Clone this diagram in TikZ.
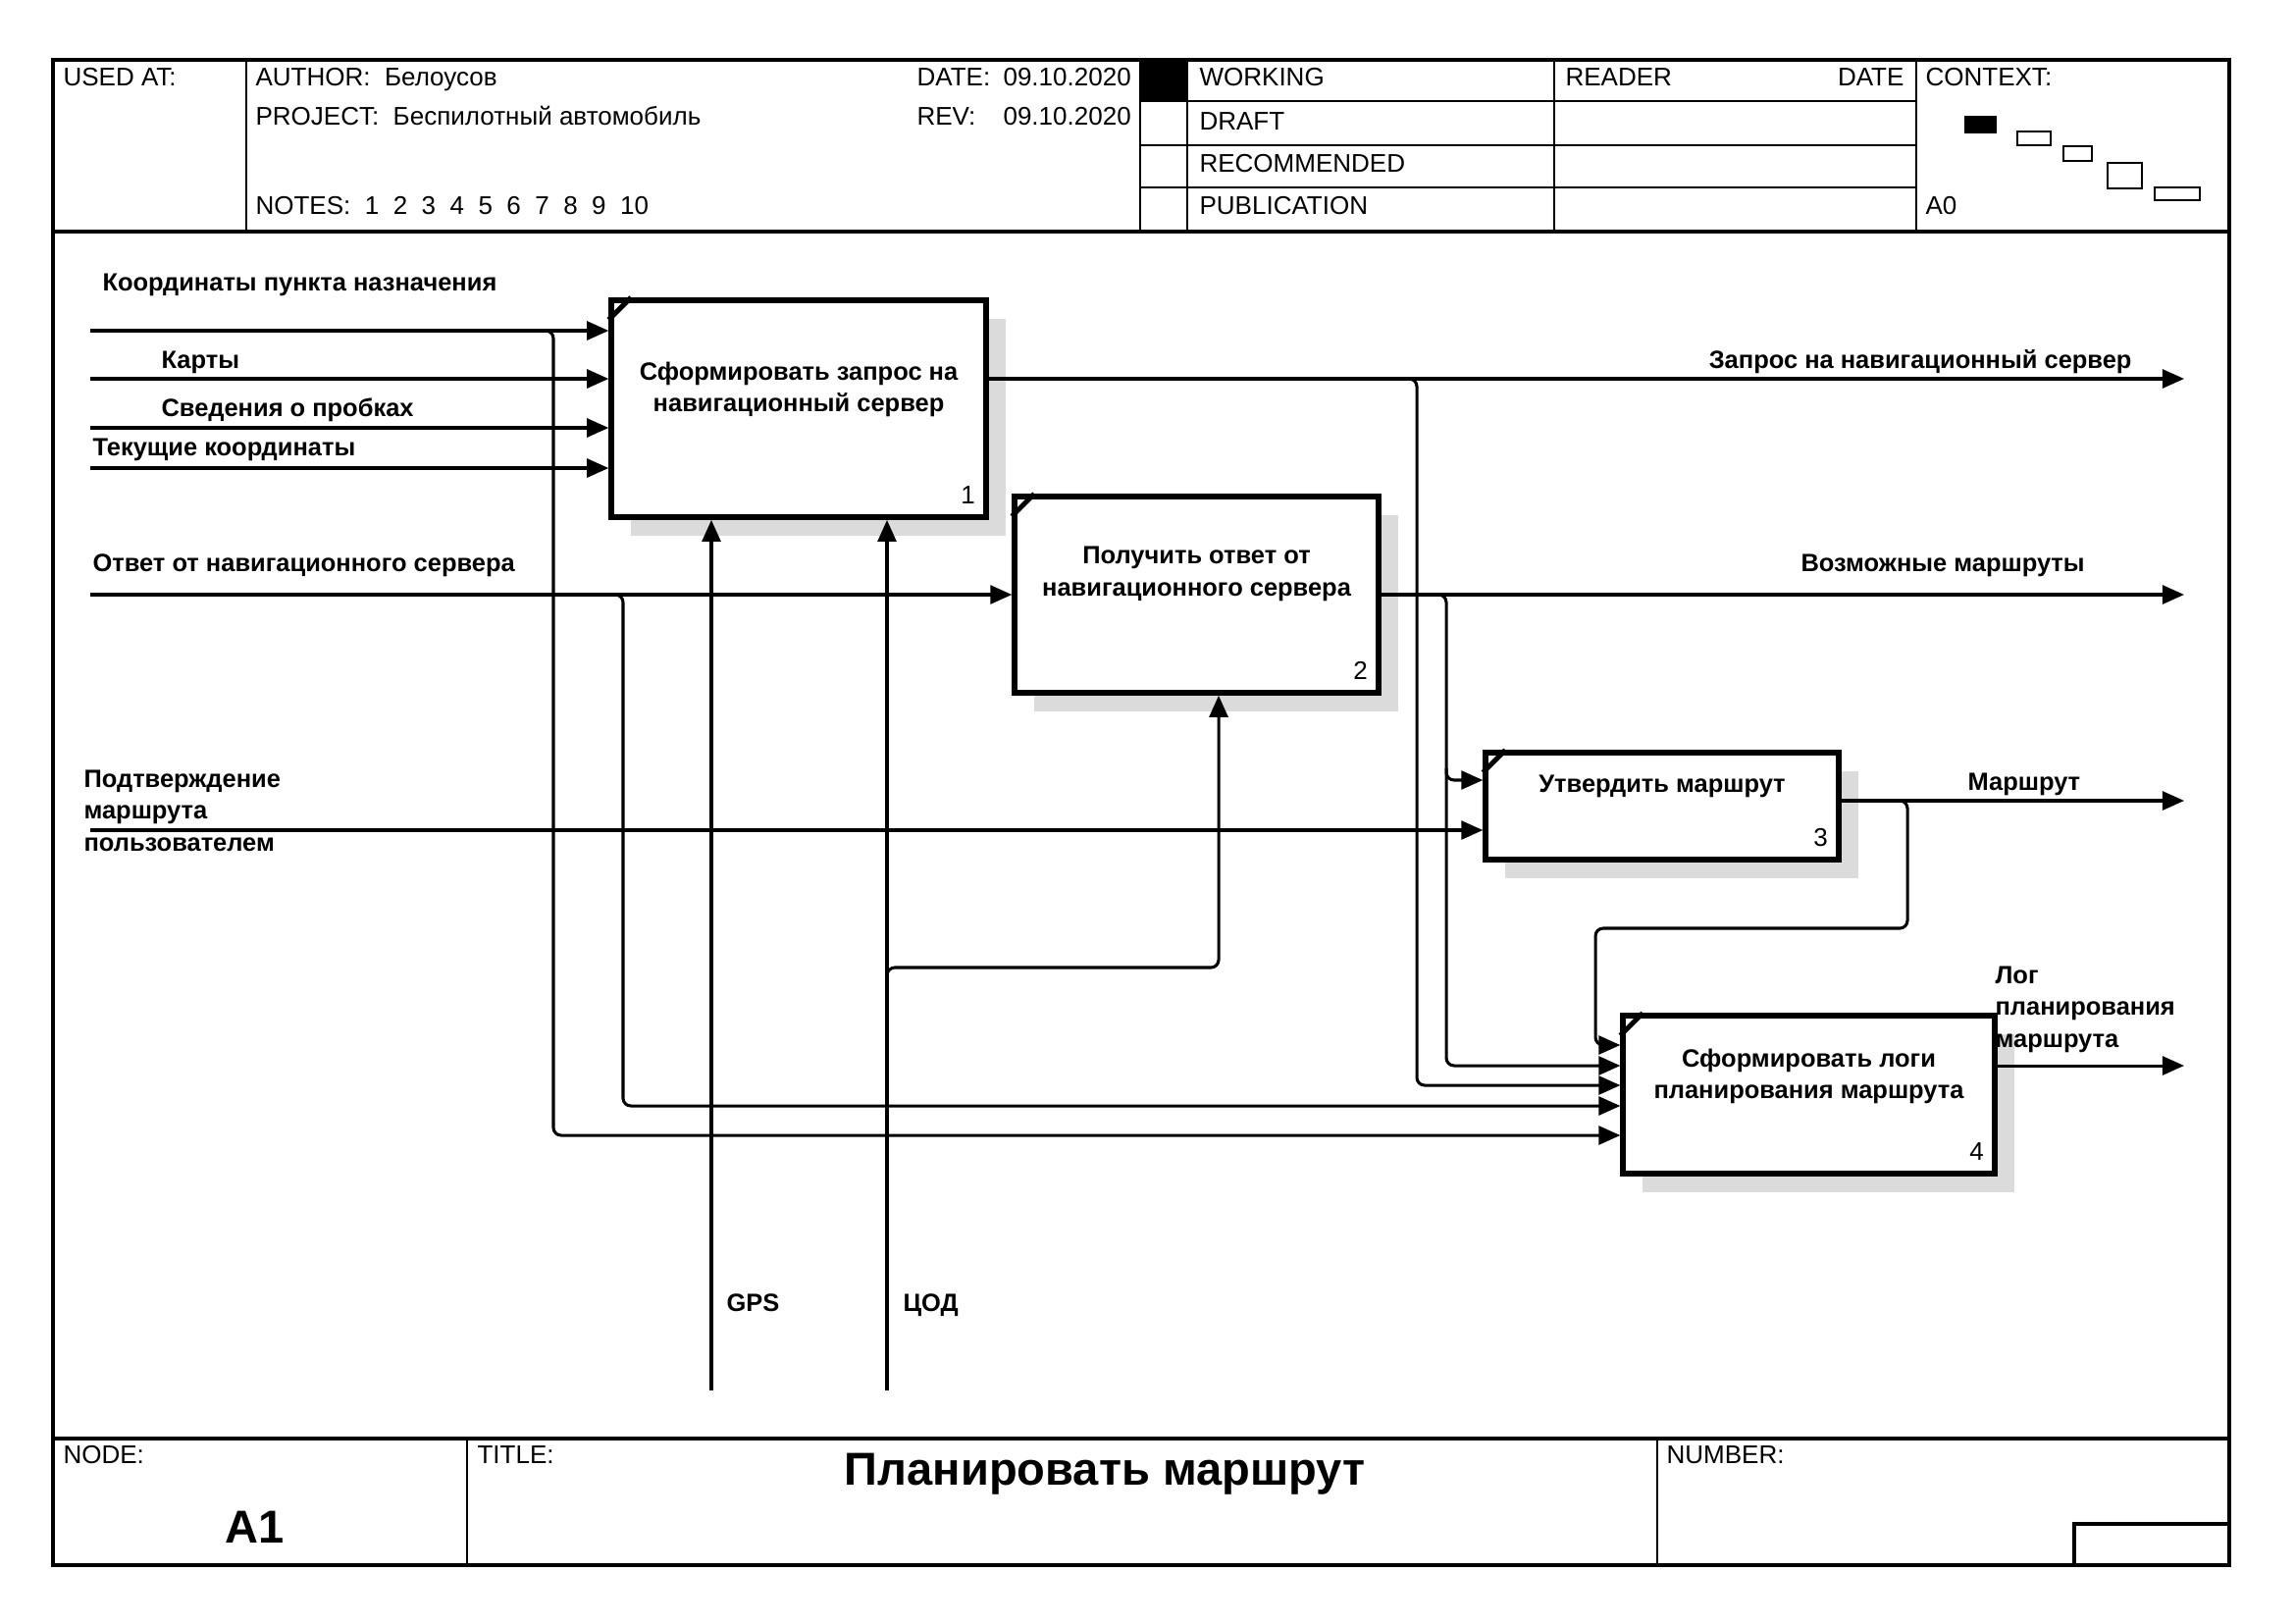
\documentclass[tikz,border=0pt]{standalone}
\usepackage{fontspec}
\setmainfont{Liberation Sans}
\usetikzlibrary{arrows.meta,shadows}

\tikzset{
  rama/.style={line width=1.2pt},
  tonka/.style={line width=0.9pt},
  blok/.style={draw, line width=2pt, fill=white, inner sep=0pt,
    drop shadow={shadow xshift=2.5mm, shadow yshift=-2.4mm, fill=black!14, opacity=1}},
  tok/.style={line width=1.1pt, rounded corners=1mm, -{Triangle[length=2.8mm,width=2.4mm]}},
  napis/.style={font=\fontsize{9.2}{11.7}\selectfont\bfseries, inner sep=0pt, anchor=base west, align=left},
  glava/.style={font=\fontsize{9.4}{11}\selectfont, inner sep=0pt, anchor=base west},
  velik/.style={font=\fontsize{17}{20}\selectfont\bfseries, inner sep=0pt, anchor=base},
}

\begin{document}
\begin{tikzpicture}[x=0.127mm,y=-0.127mm]
\useasboundingbox (0,0) rectangle (2339,1654);

% okvir
\draw[rama] (54,61) rectangle (2272,1595);
\draw[rama] (54,236) -- (2272,236);
\draw[rama] (54,1466) -- (2272,1466);
\foreach \x in {251,1162,1210,1584,1953}
  \draw[tonka] (\x,61) -- (\x,236);
\foreach \y in {103,148,191}
  \draw[tonka] (1162,\y) -- (1953,\y);
\fill (1162,61) rectangle (1210,103);
\foreach \x in {476,1689}
  \draw[tonka] (\x,1466) -- (\x,1595);
\draw[rama] (2114,1595) -- (2114,1553) -- (2272,1553);

\node[glava] (used) at (64,87) {USED AT:};
\node[glava] (author) at (260,87) {AUTHOR:~~Белоусов};
\node[glava] (project) at (260,127) {PROJECT:~~Беспилотный автомобиль};
\node[glava] (notes) at (260,218) {NOTES:~~1~~2~~3~~4~~5~~6~~7~~8~~9~~10};
\node[glava] (date) at (934,87) {DATE:};
\node[glava] (dateval) at (1022,87) {09.10.2020};
\node[glava] (rev) at (934,127) {REV:};
\node[glava] (revval) at (1022,127) {09.10.2020};
\node[glava] (working) at (1222,87) {WORKING};
\node[glava] (draft) at (1222,132) {DRAFT};
\node[glava] (recom) at (1222,175) {RECOMMENDED};
\node[glava] (publ) at (1222,218) {PUBLICATION};
\node[glava] (reader) at (1595,87) {READER};
\node[glava, anchor=base east] (rdate) at (1941,87) {DATE};
\node[glava] (context) at (1962,87) {CONTEXT:};
\node[glava] (azero) at (1962,218) {A0};

\fill (2002,118) rectangle (2035,136);
\foreach \a/\b/\c/\d in {2056/134/2090/148,2103/149/2132/164,2148/166/2183/192,2196/191/2242/204}
  \draw[line width=1pt] (\a,\b) rectangle (\c,\d);

\node[glava] (nodel) at (64,1491) {NODE:};
\node[glava] (titlel) at (486,1491) {TITLE:};
\node[glava] (numberl) at (1698,1491) {NUMBER:};
\node[velik] (a1) at (260,1572) {A1};
\node[velik] (naslov) at (1126,1513) {Планировать маршрут};

% bloki
\node[blok, minimum width=48.5mm, minimum height=28.1mm] (b1) at (814,416.5) {};
\node[blok, minimum width=47.1mm, minimum height=25.4mm] (b2) at (1219.5,606) {};
\node[blok, minimum width=45.7mm, minimum height=13.8mm] (b3) at (1694,821.5) {};
\node[blok, minimum width=48.1mm, minimum height=20.4mm] (b4) at (1843.5,1115.5) {};

\foreach \b in {b1,b2,b3,b4}
  \draw[line width=1.8pt] ([yshift=-2.9mm]\b.north west) -- ([xshift=2.9mm]\b.north west);

\node[napis, anchor=center, align=center] (t1) at ([yshift=2.5mm]b1.center) {Сформировать запрос на\\навигационный сервер};
\node[napis, anchor=center, align=center] (t2) at ([yshift=2.7mm]b2.center) {Получить ответ от\\навигационного сервера};
\node[napis, anchor=center, align=center] (t3) at ([yshift=2.6mm]b3.center) {Утвердить маршрут};
\node[napis, anchor=center, align=center] (t4) at ([yshift=2.4mm]b4.center) {Сформировать логи\\планирования маршрута};

\node[glava, anchor=south east] (n1) at ([xshift=-1.7mm,yshift=2mm]b1.south east) {1};
\node[glava, anchor=south east] (n2) at ([xshift=-1.7mm,yshift=2mm]b2.south east) {2};
\node[glava, anchor=south east] (n3) at ([xshift=-1.7mm,yshift=2mm]b3.south east) {3};
\node[glava, anchor=south east] (n4) at ([xshift=-1.7mm,yshift=2mm]b4.south east) {4};

% strelice
\coordinate (koord) at (92,337);
\coordinate (karty) at (92,386);
\coordinate (probki) at (92,436);
\coordinate (tekk) at (92,477);
\coordinate (otvet) at (92,606);
\coordinate (podtv) at (92,846);
\coordinate (gps) at (725,1417);
\coordinate (cod) at (904,1417);
\coordinate (zapros) at (2226,386);
\coordinate (vozm) at (2226,606);
\coordinate (marsh) at (2226,816);
\coordinate (log) at (2226,1086);

\coordinate (j1) at (564,337);
\coordinate (k1) at (564,1157);
\coordinate (j2) at (635,606);
\coordinate (k2) at (635,1127);
\coordinate (j3) at (1444,386);
\coordinate (k3) at (1444,1106);
\coordinate (j4) at (1474,606);
\coordinate (k4) at (1474,1086);
\coordinate (h4) at (1474,795);
\coordinate (j5) at (1944,816);
\coordinate (m1) at (1944,946);
\coordinate (m2) at (1626,946);
\coordinate (k5) at (1626,1065);
\coordinate (j6) at (904,986);
\coordinate (k6) at (1242,986);

\foreach \p in {koord,karty,probki,tekk}
  \draw[tok] (\p) -- (\p -| b1.west);
\draw[tok] (otvet) -- (b2.west);
\draw[tok] (podtv) -- (podtv -| b3.west);
\draw[tok] (gps) -- (gps |- b1.south);
\draw[tok] (cod) -- (cod |- b1.south);

\draw[tok] (zapros -| b1.east) -- (zapros);
\draw[tok] (b2.east) -- (vozm);
\draw[tok] (marsh -| b3.east) -- (marsh);
\draw[tok] (log -| b4.east) -- (log);

\draw[tok] ([xshift=-1.5mm]j1) -- (j1) -- (k1) -- (k1 -| b4.west);
\draw[tok] ([xshift=-1.5mm]j2) -- (j2) -- (k2) -- (k2 -| b4.west);
\draw[tok] ([xshift=-1.5mm]j3) -- (j3) -- (k3) -- (k3 -| b4.west);
\draw[tok] ([xshift=-1.5mm]j4) -- (j4) -- (k4) -- (k4 -| b4.west);
\draw[tok] ([yshift=1.5mm]h4) -- (h4) -- (h4 -| b3.west);
\draw[tok] ([xshift=-1.5mm]j5) -- (j5) -- (m1) -- (m2) -- (k5) -- (k5 -| b4.west);
\draw[tok] ([yshift=-1.5mm]j6) -- (j6) -- (k6) -- (k6 |- b2.south);

\node[napis] (lkoord) at (104,296) {Координаты пункта назначения};
\node[napis] (lkarty) at (164,375) {Карты};
\node[napis] (lprob) at (164,424) {Сведения о пробках};
\node[napis] (ltek) at (94,464) {Текущие координаты};
\node[napis] (lotv) at (94,582) {Ответ от навигационного сервера};
\node[napis] (lpodt) at (85,867) {Подтверждение\\маршрута\\пользователем};
\node[napis, anchor=base east] (lzapr) at (2173,375) {Запрос на навигационный сервер};
\node[napis] (lvozm) at (1835,582) {Возможные маршруты};
\node[napis] (lmarsh) at (2005,805) {Маршрут};
\node[napis] (llog) at (2033,1067) {Лог\\планирования\\маршрута};
\node[napis] (lgps) at (740,1336) {GPS};
\node[napis] (lcod) at (920,1336) {ЦОД};
\end{tikzpicture}
\end{document}
